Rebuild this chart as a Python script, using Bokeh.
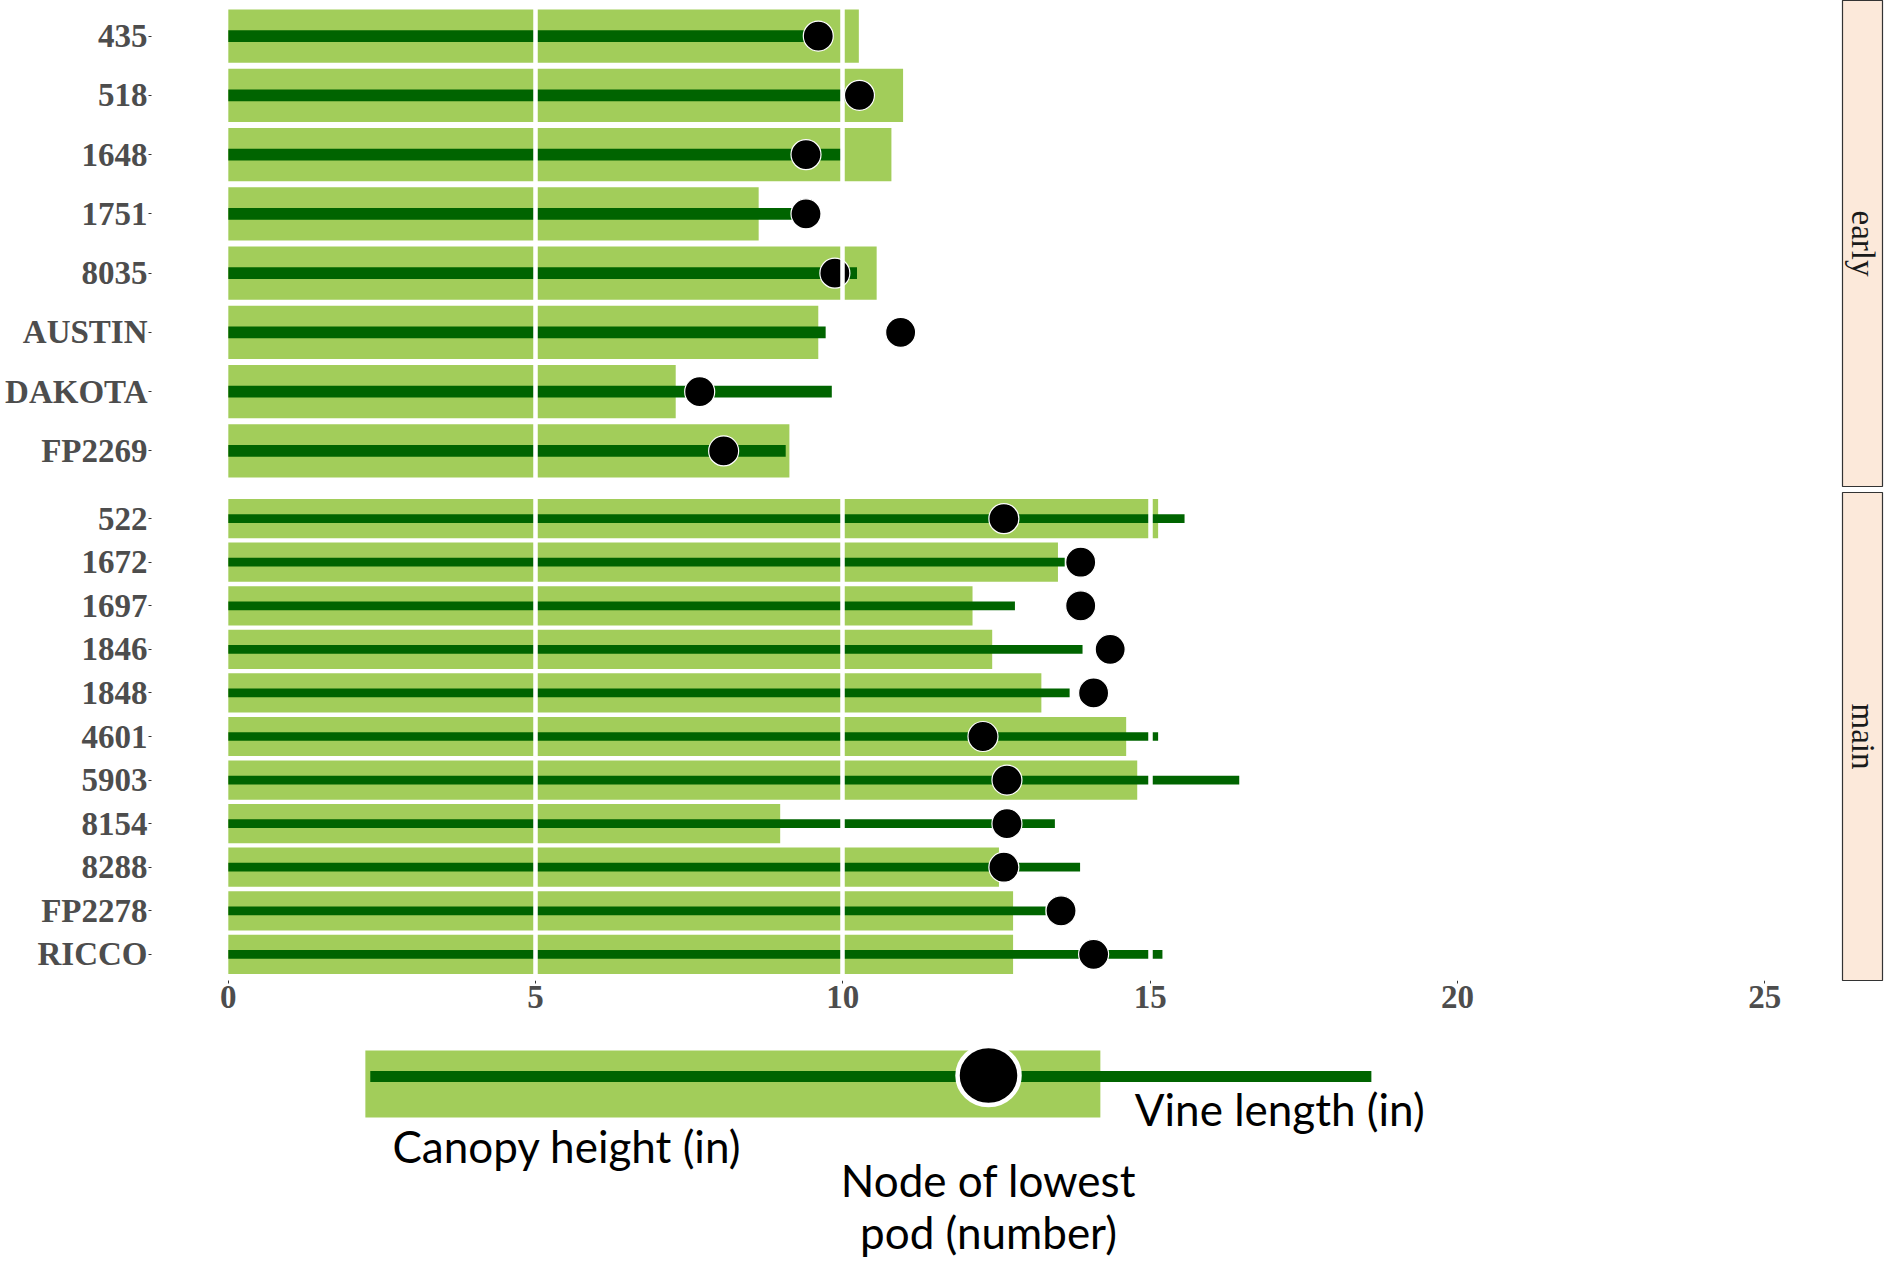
import math
from bokeh.plotting import figure
from bokeh.layouts import column, row
from bokeh.models import (Range1d, FactorRange, FixedTicker, Label, Grid,
                          ColumnDataSource)
from bokeh.core.properties import value
from bokeh.embed import file_html
from bokeh.resources import INLINE

# ---------------- data ----------------
early_names = ["435", "518", "1648", "1751", "8035", "AUSTIN", "DAKOTA", "FP2269"]
early_canopy = [10.26, 10.98, 10.79, 8.63, 10.55, 9.60, 7.28, 9.13]
early_vine = [9.55, 10.1, 10.0, 9.3, 10.23, 9.72, 9.82, 9.07]
early_node = [9.60, 10.27, 9.40, 9.40, 9.87, 10.94, 7.67, 8.06]

main_names = ["522", "1672", "1697", "1846", "1848", "4601", "5903", "8154",
              "8288", "FP2278", "RICCO"]
main_canopy = [15.13, 13.50, 12.11, 12.43, 13.23, 14.61, 14.79, 8.98, 12.54, 12.77, 12.77]
main_vine = [15.56, 13.61, 12.80, 13.90, 13.69, 15.13, 16.45, 13.45, 13.86, 13.3, 15.20]
main_node = [12.62, 13.87, 13.87, 14.35, 14.08, 12.28, 12.67, 12.67, 12.62, 13.55, 14.08]

x_ticks = [0, 5, 10, 15, 20, 25]
grid_ticks = [5, 10, 15, 20, 25]
panel_labels = ["early", "main"]

# legend (schematic) example values
leg_start = [2.23]
leg_line_start = [2.31]
leg_canopy = [14.19]
leg_vine = [18.6]
leg_node = [12.37]
leg_texts = ["Canopy height (in)", "Vine length (in)", "Node of lowest", "pod (number)"]

# ---------------- styling ----------------
LIGHT = "#A2CD5A"
DARK = "#006400"
AXIS_TXT = "#4D4D4D"
STRIP_FILL = "#FCE9DA"
SERIF = "Liberation Serif"
LEGEND_FONT = "Lato"
AX_FONT_SIZE = "33px"

TOTAL_W = 1884
TOTAL_H = 1263
PANEL_W = 1841
STRIP_W = TOTAL_W - PANEL_W
FRAME_LEFT = 151

ROW1_H = 489
ROW2_H = 539

x_range = Range1d(-1.25, 26.25)


def style_axis(ax):
    ax.major_label_text_font = SERIF
    ax.major_label_text_font_size = AX_FONT_SIZE
    ax.major_label_text_font_style = "bold"
    ax.major_label_text_color = AXIS_TXT
    ax.axis_line_color = None
    ax.major_tick_line_color = "#333333"
    ax.major_tick_out = 3
    ax.major_tick_in = 0
    ax.minor_tick_line_color = None


def panel(names, canopy, vine, node, height, top, bottom, show_x):
    src = ColumnDataSource(dict(name=names, canopy=canopy, vine=vine, node=node))
    yr = FactorRange(factors=list(reversed(names)), range_padding=0.1,
                     range_padding_units="absolute")
    p = figure(width=PANEL_W, height=height, x_range=x_range, y_range=yr,
               output_backend="svg", toolbar_location=None,
               x_axis_location="below" if show_x else None,
               min_border_left=FRAME_LEFT, min_border_right=0,
               min_border_top=top, min_border_bottom=bottom)
    p.outline_line_color = None
    p.background_fill_color = "white"
    p.border_fill_color = "white"
    p.grid.visible = False
    p.hbar(y="name", left=0, right="canopy", height=0.9, source=src,
           fill_color=LIGHT, line_color=None)
    p.hbar(y="name", left=0, right="vine", height=0.2, source=src,
           fill_color=DARK, line_color=None)
    p.scatter(x="node", y="name", size=30, source=src, fill_color="black",
              line_color="white", line_width=1.2)
    g = Grid(dimension=0, ticker=FixedTicker(ticks=grid_ticks),
             grid_line_color="white", grid_line_width=4.5, level="overlay")
    p.add_layout(g, "center")
    for ax in p.yaxis:
        style_axis(ax)
        ax.major_label_standoff = 1
    if show_x:
        for ax in p.xaxis:
            style_axis(ax)
            ax.ticker = FixedTicker(ticks=x_ticks)
            ax.major_label_standoff = 2
    return p


def strip(label, height, top, bottom):
    s = figure(width=STRIP_W, height=height, x_range=Range1d(0, 1),
               y_range=Range1d(0, 1), output_backend="svg",
               toolbar_location=None, x_axis_location=None, y_axis_location=None,
               min_border_left=1, min_border_right=2,
               min_border_top=top, min_border_bottom=bottom)
    s.grid.visible = False
    s.background_fill_color = STRIP_FILL
    s.border_fill_color = "white"
    s.outline_line_color = "#333333"
    s.outline_line_width = 1.2
    s.add_layout(Label(x=0.5, y=0.5, text=label, angle=-math.pi / 2,
                       text_align="center", text_baseline="middle",
                       text_font=SERIF, text_font_size="33px",
                       text_color="#1A1A1A"))
    return s


p_early = panel(early_names, early_canopy, early_vine, early_node,
                height=ROW1_H, top=0, bottom=3, show_x=False)
s_early = strip(panel_labels[0], ROW1_H, 0, 3)

p_main = panel(main_names, main_canopy, main_vine, main_node,
               height=ROW2_H, top=3, bottom=48, show_x=True)
s_main = strip(panel_labels[1], ROW2_H, 3, 48)

# ---------------- schematic legend ----------------
LEG_TOP = ROW1_H + ROW2_H
LEG_H = TOTAL_H - LEG_TOP
leg = figure(width=TOTAL_W, height=LEG_H, x_range=x_range,
             y_range=Range1d(LEG_TOP + LEG_H, LEG_TOP),
             output_backend="svg", toolbar_location=None,
             x_axis_location=None, y_axis_location=None,
             min_border_left=FRAME_LEFT, min_border_right=TOTAL_W - PANEL_W,
             min_border_top=0, min_border_bottom=0)
leg.grid.visible = False
leg.outline_line_color = None
lsrc = ColumnDataSource(dict(start=leg_start, lstart=leg_line_start,
                             canopy=leg_canopy, vine=leg_vine, node=leg_node))
leg.quad(left="start", right="canopy", top=1050, bottom=1117, source=lsrc,
         fill_color=LIGHT, line_color=None)
leg.hbar(y=1076, left="lstart", right="vine", height=11, source=lsrc,
         fill_color=DARK, line_color=None)
leg.ellipse(x="node", y=1075, width=62, height=59, width_units="screen",
            height_units="screen", source=lsrc, fill_color="black",
            line_color="white", line_width=4.5)
txt_kw = dict(text_font=value(LEGEND_FONT), text_font_size="44px",
              text_color="black", text_baseline="alphabetic")
leg.text(x=[2.67], y=[1145], text=[leg_texts[0]], text_align="left", **txt_kw)
leg.text(x=[14.75], y=[1108], text=[leg_texts[1]], text_align="left", **txt_kw)
leg.text(x=[leg_node[0], leg_node[0]], y=[1179.5, 1231],
         text=[leg_texts[2], leg_texts[3]], text_align="center", **txt_kw)

layout = column(row(p_early, s_early), row(p_main, s_main), leg)

open("out.html", "w").write(file_html(layout, INLINE))
